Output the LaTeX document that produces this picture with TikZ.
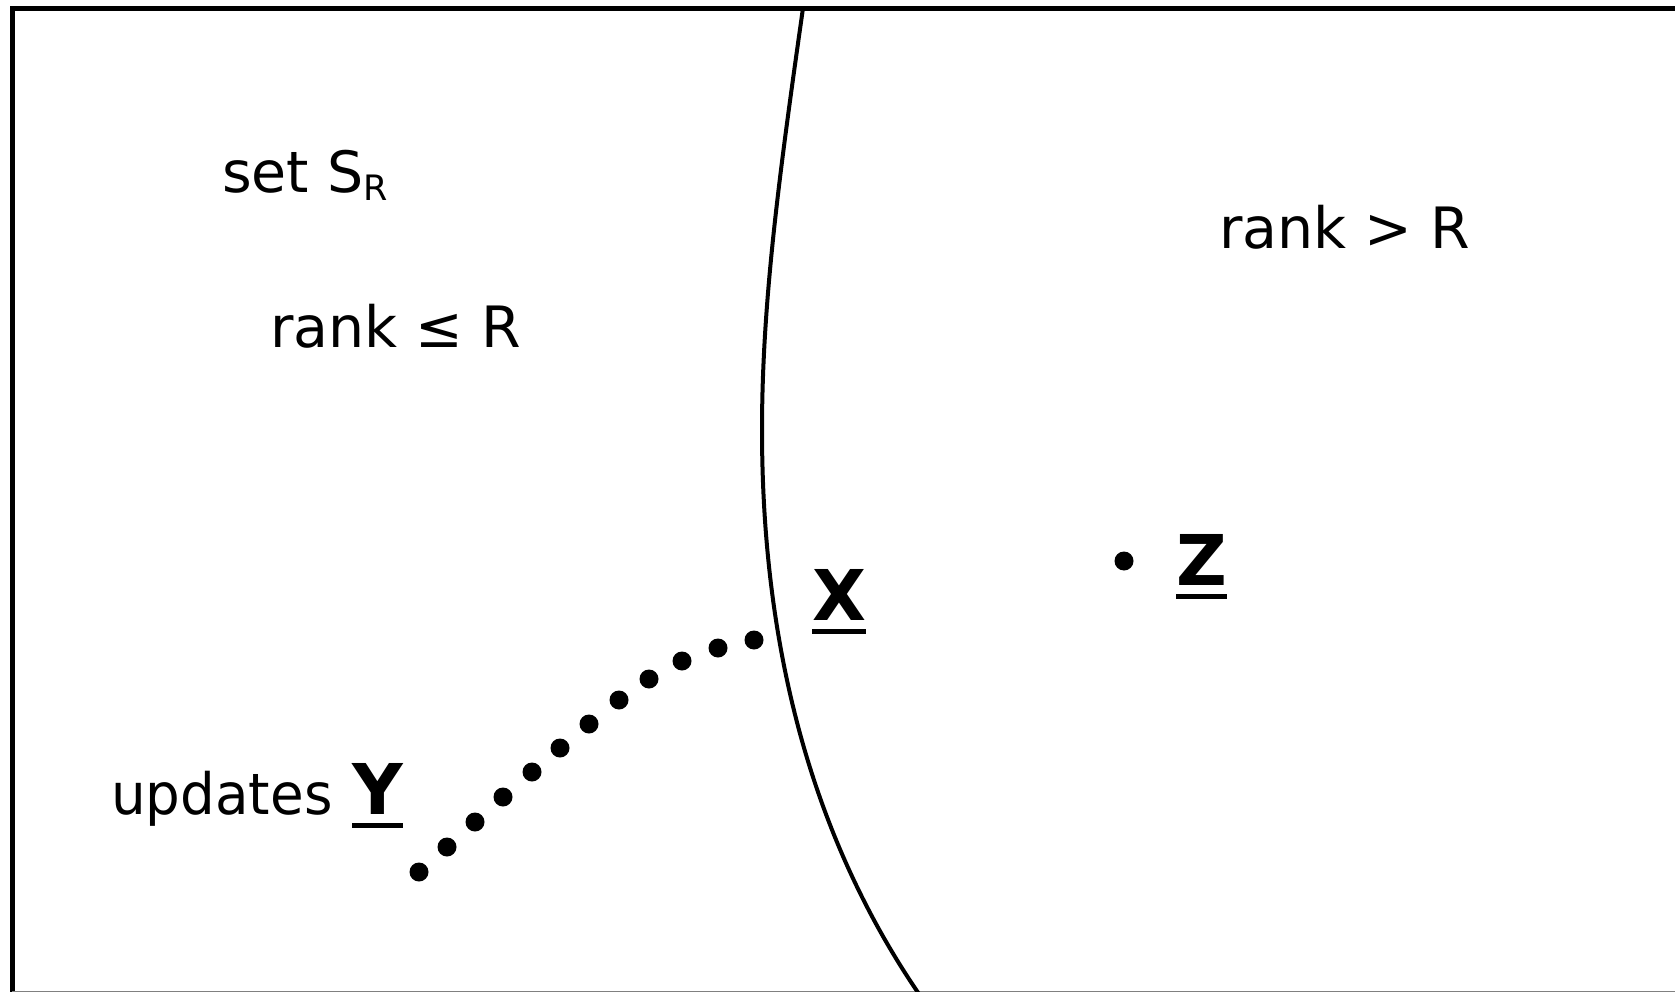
\documentclass[tikz,border=0pt]{standalone}
\usepackage{fontspec}
\setmainfont{DejaVu Sans}
\begin{document}
\begin{tikzpicture}[x=1pt,y=-1pt,
  lbl/.style={anchor=base west,inner sep=0pt,font=\fontsize{57}{60}\selectfont},
  boldlbl/.style={anchor=base west,inner sep=0pt,font=\fontsize{70}{72}\selectfont\bfseries},
  uline/.style={line width=5pt},
  dotmark/.style={circle,fill=black,draw=none,inner sep=0pt,minimum size=19pt},
  framestyle/.style={line width=5pt},
  boundary/.style={line width=4pt}]
\useasboundingbox (0,0) rectangle (1675,992);
% frame
\draw[framestyle] (12,994) -- (12,8.5) -- (1677,8.5);
\draw[gray,line width=1.5pt] (12,991.5) -- (1675,991.5);
% boundary curve
\coordinate (ctop) at (803,8);
\coordinate (cmid) at (762,430);
\coordinate (cbot) at (919,994);
\draw[boundary] (ctop) .. controls (780,170) and (762,300) .. (cmid)
  .. controls (762,620) and (800,820) .. (cbot);
% texts
\node[lbl] (setS) at (222,193) {set S\raisebox{-8pt}{\fontsize{35}{35}\selectfont R}};
\node[lbl] (rankle) at (270,347) {rank ≤ R};
\node[lbl] (rankgt) at (1219,249) {rank > R};
\node[lbl] (upd) at (111,814) {\scalebox{0.96}[1]{updates}};
\node[boldlbl] (Y) at (352,814) {Y};
\node[boldlbl] (X) at (812,620) {X};
\node[boldlbl] (Z) at (1176,585) {Z};
\draw[uline] ([yshift=-11pt]Y.base west) -- ([yshift=-11pt]Y.base east);
\draw[uline] ([yshift=-11pt]X.base west) -- ([yshift=-11pt]X.base east);
\draw[uline] ([yshift=-11pt]Z.base west) -- ([yshift=-11pt]Z.base east);
% dots
\foreach \px/\py [count=\i] in {419/872,447/847,475/822,503/797,532/772,560/748,589/724,619/700,649/679,682/661,718/648,754/640}
  \node[dotmark] (d\i) at (\px,\py) {};
\node[dotmark] (zdot) at (1124,561) {};
\end{tikzpicture}
\end{document}
